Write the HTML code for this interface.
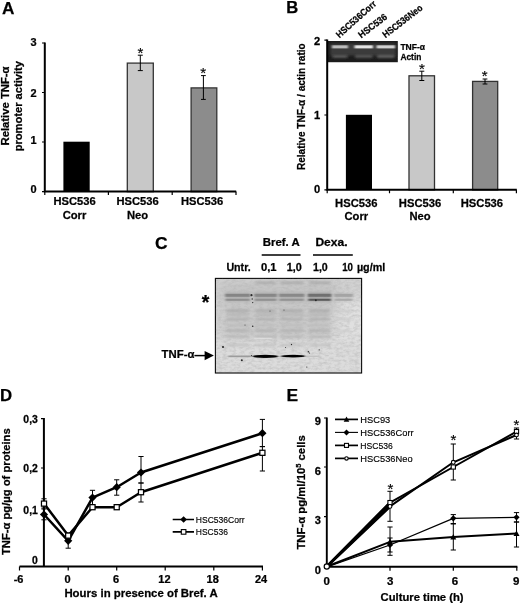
<!DOCTYPE html>
<html lang="en">
<head>
<meta charset="utf-8">
<title>Figure</title>
<style>
html,body{margin:0;padding:0;background:#fff;}
body{width:520px;height:604px;overflow:hidden;}
svg{display:block;}
text{font-family:"Liberation Sans","DejaVu Sans",sans-serif;fill:#000;stroke:#000;stroke-width:0.15px;}
.b{font-weight:bold;stroke:#000;stroke-width:0.25px;}
.ax{stroke:#000;stroke-width:2;fill:none;}
.tk{stroke:#000;stroke-width:1.2;fill:none;}
.eb{stroke:#000;stroke-width:1;fill:none;}
.l2{stroke:#000;stroke-width:2.5;fill:none;stroke-linejoin:round;}
.l1{stroke:#000;stroke-width:1.1;fill:none;stroke-linejoin:round;}
</style>
</head>
<body>
<svg width="520" height="604" viewBox="0 0 520 604">
<defs>
  <filter id="bl1" x="-10%" y="-100%" width="120%" height="300%"><feGaussianBlur stdDeviation="0.9 0.7"/></filter>
  <filter id="bl2" x="-10%" y="-100%" width="120%" height="300%"><feGaussianBlur stdDeviation="1.4 0.9"/></filter>
  <filter id="bl3" x="-10%" y="-100%" width="120%" height="300%"><feGaussianBlur stdDeviation="2.5 1.4"/></filter>
  <filter id="bl4" x="-20%" y="-20%" width="140%" height="140%"><feGaussianBlur stdDeviation="6 4"/></filter>
  <filter id="soft" x="0" y="0" width="100%" height="100%"><feGaussianBlur stdDeviation="0.35"/></filter>
  <filter id="noise" x="0" y="0" width="100%" height="100%"><feTurbulence type="fractalNoise" baseFrequency="0.22 0.4" numOctaves="3" seed="11"/><feColorMatrix type="matrix" values="0 0 0 0 0.45  0 0 0 0 0.45  0 0 0 0 0.45  1.6 0 0 0 -0.62"/></filter>
  <clipPath id="blotclip"><rect x="215.4" y="278.4" width="146.2" height="94.6"/></clipPath>
</defs>
<rect x="0" y="0" width="520" height="604" fill="#fff"/>
<g filter="url(#soft)">

<g id="panelA">
<text class="b" font-size="17.2" transform="translate(2.10,13.80)">A</text>
<text class="b" font-size="10.6" text-anchor="middle" transform="translate(8.90,106.00) rotate(-90) scale(1.065,1)">Relative TNF-α</text>
<text class="b" font-size="10.6" text-anchor="middle" transform="translate(22.30,106.20) rotate(-90) scale(1.052,1)">promoter activity</text>
<text class="b" font-size="10.5" text-anchor="end" transform="translate(36.60,46.20) scale(1.045,1)">3</text>
<text class="b" font-size="10.5" text-anchor="end" transform="translate(36.60,97.20) scale(1.045,1)">2</text>
<text class="b" font-size="10.5" text-anchor="end" transform="translate(36.60,144.40) scale(1.045,1)">1</text>
<text class="b" font-size="10.5" text-anchor="end" transform="translate(36.60,193.00) scale(1.045,1)">0</text>
<rect x="63.4" y="141.7" width="26.3" height="49.9" fill="#000"/>
<rect x="127.3" y="63.1" width="26" height="128.5" fill="#c8c8c8" stroke="#333" stroke-width="1.3"/>
<rect x="191.1" y="87.9" width="25.7" height="103.7" fill="#8c8c8c" stroke="#333" stroke-width="1.3"/>
<path class="eb" d="M140.3 55.2V70.6M137.8 55.2h5.0M137.8 70.6h5.0"/>
<path class="eb" d="M203.4 75.6V99.4M201.0 75.6h4.8M201.0 99.4h4.8"/>
<text font-family="Liberation Serif, DejaVu Serif, serif" font-size="15" stroke-width="0.3" text-anchor="middle" x="140.4" y="57.86">*</text>
<text font-family="Liberation Serif, DejaVu Serif, serif" font-size="15" stroke-width="0.3" text-anchor="middle" x="203.2" y="78.27">*</text>
<path class="ax" d="M44.8 42.5V191.6H236.2"/>
<path class="tk" d="M42 43h2.8M42 92.5h2.8M42 142h2.8M42 191.6h2.8"/>
<path class="tk" d="M44.8 191.6v3.5M108.4 191.6v3.5M172.2 191.6v3.5M236 191.6v3.5"/>
<text class="b" font-size="11" text-anchor="middle" transform="translate(74.50,205.30) scale(1.015,1)">HSC536</text>
<text class="b" font-size="11" text-anchor="middle" transform="translate(74.50,218.80) scale(1.02,1)">Corr</text>
<text class="b" font-size="11" text-anchor="middle" transform="translate(137.50,205.30) scale(1.015,1)">HSC536</text>
<text class="b" font-size="11" text-anchor="middle" transform="translate(137.50,218.80) scale(1.02,1)">Neo</text>
<text class="b" font-size="11" text-anchor="middle" transform="translate(202.00,205.30) scale(1.015,1)">HSC536</text>
</g>
<g id="panelB">
<text class="b" font-size="16.6" transform="translate(286.20,12.80)">B</text>
<text class="b" font-size="11.3" text-anchor="middle" transform="translate(304.90,106.70) rotate(-90) scale(0.889,1)">Relative TNF-α / actin ratio</text>
<text class="b" font-size="10.5" text-anchor="end" transform="translate(320.30,45.40) scale(1.062,1)">2</text>
<text class="b" font-size="10.5" text-anchor="end" transform="translate(320.30,119.40) scale(1.062,1)">1</text>
<text class="b" font-size="10.5" text-anchor="end" transform="translate(320.30,192.60) scale(1.062,1)">0</text>
<rect x="345.9" y="114.8" width="26.1" height="75" fill="#000"/>
<rect x="409" y="75.8" width="25.5" height="114" fill="#c8c8c8" stroke="#333" stroke-width="1.3"/>
<rect x="472.6" y="81.4" width="25.1" height="108.4" fill="#8c8c8c" stroke="#333" stroke-width="1.3"/>
<path class="eb" d="M421.8 71.2V80.5M419.3 71.2h5.0M419.3 80.5h5.0"/>
<path class="eb" d="M485 79V84M482.6 79h4.8M482.6 84h4.8"/>
<text font-family="Liberation Serif, DejaVu Serif, serif" font-size="15" stroke-width="0.3" text-anchor="middle" x="421.8" y="73.66">*</text>
<text font-family="Liberation Serif, DejaVu Serif, serif" font-size="15" stroke-width="0.3" text-anchor="middle" x="484.7" y="81.06">*</text>
<g><rect x="328" y="41" width="69.8" height="21.2" fill="#1c1c1c"/>
<rect x="330" y="43.5" width="66" height="12" fill="#3a3a3a" filter="url(#bl2)"/>
<g filter="url(#bl1)">
<rect x="332" y="45.3" width="16" height="3.1" fill="#bcbcbc"/>
<rect x="354.5" y="45.3" width="18.5" height="3.1" fill="#e4e4e4"/>
<rect x="376.5" y="45.3" width="18.5" height="3.1" fill="#d2d2d2"/>
</g><g filter="url(#bl2)">
<rect x="332.5" y="55" width="15" height="2.8" fill="#606060"/>
<rect x="355.0" y="55" width="17.5" height="2.8" fill="#5c5c5c"/>
<rect x="377.0" y="55" width="17.5" height="2.8" fill="#686868"/>
</g></g>
<text class="b" font-size="9" transform="translate(400.40,50.30) scale(0.949,1)">TNF-α</text>
<text class="b" font-size="9" transform="translate(400.40,59.70) scale(0.933,1)">Actin</text>
<text class="b" font-size="9.5" transform="translate(339.40,38.40) rotate(-42) scale(0.902,1)">HSC536Corr</text>
<text class="b" font-size="9.5" transform="translate(361.30,38.60) rotate(-37.5) scale(0.936,1)">HSC536</text>
<text class="b" font-size="9.5" transform="translate(385.40,38.30) rotate(-37.5) scale(0.891,1)">HSC536Neo</text>
<path class="ax" d="M327.2 39.6V189.8H516.8"/>
<path class="tk" d="M324.4 40.2h2.8M324.4 115h2.8M324.4 189.8h2.8"/>
<path class="tk" d="M327.2 189.8v3.5M389.5 189.8v3.5M453.3 189.8v3.5M516.4 189.8v3.5"/>
<text class="b" font-size="11" text-anchor="middle" transform="translate(356.30,206.50) scale(1.02,1)">HSC536</text>
<text class="b" font-size="11" text-anchor="middle" transform="translate(356.30,219.90) scale(1.02,1)">Corr</text>
<text class="b" font-size="11" text-anchor="middle" transform="translate(420.00,206.50) scale(1.02,1)">HSC536</text>
<text class="b" font-size="11" text-anchor="middle" transform="translate(420.00,219.90) scale(1.02,1)">Neo</text>
<text class="b" font-size="11" text-anchor="middle" transform="translate(481.90,206.50) scale(1.02,1)">HSC536</text>
</g>
<g id="panelC">
<text class="b" font-size="17.4" transform="translate(155.10,248.80)">C</text>
<text class="b" font-size="10.6" transform="translate(262.80,245.80) scale(1.077,1)">Bref. A</text>
<text class="b" font-size="10.6" transform="translate(315.40,245.80) scale(1.138,1)">Dexa.</text>
<path d="M261.7 255H300.5M313 255H352.8" stroke="#000" stroke-width="1.4"/>
<text class="b" font-size="10.6" transform="translate(226.40,270.70) scale(1.006,1)">Untr.</text>
<text class="b" font-size="10.6" transform="translate(261.00,270.70) scale(1.059,1)">0,1</text>
<text class="b" font-size="10.6" transform="translate(286.70,270.70) scale(1.018,1)">1,0</text>
<text class="b" font-size="10.6" transform="translate(313.00,270.70) scale(1.004,1)">1,0</text>
<text class="b" font-size="10.6" transform="translate(342.20,270.70) scale(0.916,1)">10</text>
<text class="b" font-size="10.6" transform="translate(356.90,270.70) scale(1.018,1)">µg/ml</text>
<text class="b" font-size="19.5" text-anchor="middle" x="205.6" y="309.3">*</text>
<text class="b" font-size="11.2" text-anchor="end" transform="translate(194.40,358.30) scale(1.013,1)">TNF-α</text>
<path d="M194.4 355.6H206" stroke="#000" stroke-width="1.5"/>
<path d="M204.6 350.9L213.9 355.6L204.6 360.3Z" fill="#000"/>
<g id="blot">
<rect x="215.4" y="278.4" width="146.2" height="94.6" fill="#d2d2d2"/>
<g clip-path="url(#blotclip)">
<g filter="url(#bl4)">
<rect x="332" y="300" width="45" height="85" fill="#e0e0e0"/>
<rect x="210" y="340" width="160" height="45" fill="#dcdcdc"/>
<rect x="220" y="282" width="118" height="26" fill="#c4c4c4"/>
<rect x="222" y="306" width="112" height="32" fill="#cacaca"/>
</g>
<g filter="url(#bl2)">
<rect x="225.3" y="292.4" width="24.7" height="9" fill="#b2b2b2"/>
<rect x="254.5" y="292.4" width="22.3" height="9" fill="#b0b0b0"/>
<rect x="279.2" y="292.4" width="25.0" height="9" fill="#b2b2b2"/>
<rect x="308" y="292.4" width="23.2" height="9" fill="#a6a6a6"/>
<rect x="334.2" y="292.4" width="18.5" height="9" fill="#c6c6c6"/>
</g>
<rect x="215" y="278" width="147" height="96" filter="url(#noise)" opacity="0.7"/>
<g filter="url(#bl1)">
<rect x="225.3" y="293.8" width="24.7" height="3" fill="#858585"/>
<rect x="225.8" y="298.8" width="23.7" height="2" fill="#8f8f8f"/>
<rect x="254.5" y="293.8" width="22.3" height="3" fill="#878787"/>
<rect x="255.0" y="298.8" width="21.3" height="2" fill="#919191"/>
<rect x="279.2" y="293.8" width="25.0" height="3" fill="#898989"/>
<rect x="279.7" y="298.8" width="24.0" height="2" fill="#939393"/>
<rect x="308" y="293.8" width="23.2" height="3" fill="#707070"/>
<rect x="308.5" y="298.8" width="22.2" height="2" fill="#5a5a5a"/>
<rect x="334.2" y="293.8" width="18.5" height="3" fill="#a4a4a4"/>
<rect x="334.7" y="298.8" width="17.5" height="2" fill="#aaaaaa"/>
</g>
<g filter="url(#bl2)" opacity="0.95">
<rect x="226.3" y="309.5" width="22.7" height="2.4" fill="#a8a8a8"/>
<rect x="226.3" y="313.5" width="22.7" height="2.4" fill="#b6b6b6"/>
<rect x="226.3" y="318" width="22.7" height="2.4" fill="#aeaeae"/>
<rect x="226.3" y="324" width="22.7" height="2.4" fill="#bcbcbc"/>
<rect x="226.3" y="329.5" width="22.7" height="2.4" fill="#b0b0b0"/>
<rect x="226.3" y="335.5" width="22.7" height="2.4" fill="#b8b8b8"/>
<rect x="226.3" y="344" width="22.7" height="2.4" fill="#c2c2c2"/>
<rect x="255.5" y="309.5" width="20.3" height="2.4" fill="#a8a8a8"/>
<rect x="255.5" y="313.5" width="20.3" height="2.4" fill="#b6b6b6"/>
<rect x="255.5" y="318" width="20.3" height="2.4" fill="#aeaeae"/>
<rect x="255.5" y="324" width="20.3" height="2.4" fill="#bcbcbc"/>
<rect x="255.5" y="329.5" width="20.3" height="2.4" fill="#b0b0b0"/>
<rect x="255.5" y="335.5" width="20.3" height="2.4" fill="#b8b8b8"/>
<rect x="255.5" y="344" width="20.3" height="2.4" fill="#c2c2c2"/>
<rect x="255.5" y="281.5" width="20.3" height="2.4" fill="#a8a8a8"/>
<rect x="280.2" y="309.5" width="23.0" height="2.4" fill="#a8a8a8"/>
<rect x="280.2" y="313.5" width="23.0" height="2.4" fill="#b6b6b6"/>
<rect x="280.2" y="318" width="23.0" height="2.4" fill="#aeaeae"/>
<rect x="280.2" y="324" width="23.0" height="2.4" fill="#bcbcbc"/>
<rect x="280.2" y="329.5" width="23.0" height="2.4" fill="#b0b0b0"/>
<rect x="280.2" y="335.5" width="23.0" height="2.4" fill="#b8b8b8"/>
<rect x="280.2" y="344" width="23.0" height="2.4" fill="#c2c2c2"/>
<rect x="280.2" y="281.5" width="23.0" height="2.4" fill="#a8a8a8"/>
<rect x="309" y="309.5" width="21.2" height="2.4" fill="#a8a8a8"/>
<rect x="309" y="313.5" width="21.2" height="2.4" fill="#b6b6b6"/>
<rect x="309" y="318" width="21.2" height="2.4" fill="#aeaeae"/>
<rect x="309" y="324" width="21.2" height="2.4" fill="#bcbcbc"/>
<rect x="309" y="329.5" width="21.2" height="2.4" fill="#b0b0b0"/>
<rect x="309" y="335.5" width="21.2" height="2.4" fill="#b8b8b8"/>
<rect x="309" y="344" width="21.2" height="2.4" fill="#c2c2c2"/>
<rect x="309" y="281.5" width="21.2" height="2.4" fill="#a8a8a8"/>
<rect x="335.2" y="310" width="16.5" height="2.4" fill="#cacaca"/>
<rect x="335.2" y="318" width="16.5" height="2.4" fill="#cccccc"/>
<rect x="335.2" y="330" width="16.5" height="2.4" fill="#cecece"/>
</g>
<g filter="url(#bl1)">
<rect x="228" y="355.5" width="23.5" height="1.7" fill="#9c9c9c"/>
<ellipse cx="265.2" cy="356.3" rx="13.2" ry="1.6" fill="#000"/>
<ellipse cx="293.2" cy="356.1" rx="12.8" ry="1.35" fill="#000"/>
<rect x="306" y="355.6" width="13" height="1.3" fill="#c0c0c0"/>
</g>
<g filter="url(#bl1)" opacity="0.6"><rect x="254.5" y="337.7" width="17.5" height="1.1" fill="#f4f4f4"/></g>
<g filter="url(#soft)">
<circle cx="251.5" cy="295.2" r="1.1" fill="#2c2c2c"/>
<circle cx="252.2" cy="299" r="0.7" fill="#2c2c2c"/>
<circle cx="252.7" cy="302.6" r="0.7" fill="#2c2c2c"/>
<circle cx="223" cy="347" r="1.1" fill="#2c2c2c"/>
<circle cx="241.8" cy="360.2" r="1" fill="#2c2c2c"/>
<circle cx="252.7" cy="326.3" r="0.8" fill="#2c2c2c"/>
<circle cx="251.5" cy="355.5" r="0.6" fill="#2c2c2c"/>
<circle cx="308.4" cy="351.7" r="0.8" fill="#2c2c2c"/>
<circle cx="309.5" cy="353" r="0.6" fill="#2c2c2c"/>
<circle cx="319.2" cy="349.8" r="0.6" fill="#2c2c2c"/>
<circle cx="306.8" cy="367" r="0.6" fill="#2c2c2c"/>
<circle cx="315.8" cy="300.3" r="1.0" fill="#2c2c2c"/>
<circle cx="245" cy="325" r="0.5" fill="#2c2c2c"/>
<circle cx="270" cy="311" r="0.5" fill="#2c2c2c"/>
<circle cx="284" cy="310" r="0.5" fill="#2c2c2c"/>
<circle cx="291.5" cy="344.5" r="0.7" fill="#2c2c2c"/>
<circle cx="285.5" cy="347.5" r="0.5" fill="#2c2c2c"/>
</g>
</g>
<rect x="215.4" y="278.4" width="146.2" height="94.6" fill="none" stroke="#0c0c0c" stroke-width="1.1"/>
</g>
</g>
<g id="panelD">
<text class="b" font-size="16.8" transform="translate(-0.10,400.50)">D</text>
<text class="b" font-size="10.6" text-anchor="middle" transform="translate(9.50,491.70) rotate(-90) scale(1.059,1)">TNF-α pg/µg of proteins</text>
<text class="b" font-size="10" text-anchor="end" transform="translate(37.80,423.30) scale(1.04,1)">0,3</text>
<text class="b" font-size="10" text-anchor="end" transform="translate(37.80,472.40) scale(1.04,1)">0,2</text>
<text class="b" font-size="10" text-anchor="end" transform="translate(37.80,514.10) scale(1.04,1)">0,1</text>
<text class="b" font-size="10" text-anchor="end" transform="translate(37.80,564.20) scale(1.04,1)">0</text>
<path d="M43.9 418V566.4" stroke="#000" stroke-width="2" fill="none"/>
<path d="M19.5 566.4H263" stroke="#000" stroke-width="2" fill="none"/>
<path class="tk" d="M41 418.7h3M41 468h3"/>
<path class="tk" d="M19.5 566.4v4M68.2 566.4v4M116.7 566.4v4M165.2 566.4v4M213.8 566.4v4M262.4 566.4v4"/>
<text class="b" font-size="10" text-anchor="middle" transform="translate(18.60,582.60) scale(1.1,1)">-6</text>
<text class="b" font-size="10" text-anchor="middle" transform="translate(67.60,582.60) scale(1.1,1)">0</text>
<text class="b" font-size="10" text-anchor="middle" transform="translate(116.00,582.60) scale(1.1,1)">6</text>
<text class="b" font-size="10" text-anchor="middle" transform="translate(164.40,582.60) scale(1.1,1)">12</text>
<text class="b" font-size="10" text-anchor="middle" transform="translate(212.70,582.60) scale(1.1,1)">18</text>
<text class="b" font-size="10" text-anchor="middle" transform="translate(261.00,582.60) scale(1.1,1)">24</text>
<text class="b" font-size="10.9" transform="translate(64.40,597.00) scale(1.046,1)">Hours in presence of Bref. A</text>
<path class="eb" d="M44 509V519.8M41.4 509h5.2M41.4 519.8h5.2"/>
<path class="eb" d="M68.2 533.5V548.2M65.60000000000001 533.5h5.2M65.60000000000001 548.2h5.2"/>
<path class="eb" d="M92.5 490.3V505M89.9 490.3h5.2M89.9 505h5.2"/>
<path class="eb" d="M116.7 479.8V495.2M114.10000000000001 479.8h5.2M114.10000000000001 495.2h5.2"/>
<path class="eb" d="M141 456.5V483M138.4 456.5h5.2M138.4 483h5.2"/>
<path class="eb" d="M262.4 419.4V446.6M259.79999999999995 419.4h5.2M259.79999999999995 446.6h5.2"/>
<path class="eb" d="M44 498.8V508M41.4 498.8h5.2M41.4 508h5.2"/>
<path class="eb" d="M68.2 533V538M65.60000000000001 533h5.2M65.60000000000001 538h5.2"/>
<path class="eb" d="M92.5 505V509M89.9 505h5.2M89.9 509h5.2"/>
<path class="eb" d="M116.7 505V509M114.10000000000001 505h5.2M114.10000000000001 509h5.2"/>
<path class="eb" d="M141 483V502M138.4 483h5.2M138.4 502h5.2"/>
<path class="eb" d="M262.4 446.6V471M259.79999999999995 446.6h5.2M259.79999999999995 471h5.2"/>
<path class="l2" d="M44 514.5 L68.2 540.8 L92.5 497.6 L116.7 487.2 L141 472.5 L262.4 433.2"/>
<path class="l2" d="M44 503.6 L68.2 535.6 L92.5 507.2 L116.7 507.2 L141 492.2 L262.4 452.8"/>
<path d="M44 510.4L48.1 514.5L44 518.6L39.9 514.5Z" fill="#000"/>
<path d="M68.2 536.6999999999999L72.3 540.8L68.2 544.9L64.10000000000001 540.8Z" fill="#000"/>
<path d="M92.5 493.5L96.6 497.6L92.5 501.70000000000005L88.4 497.6Z" fill="#000"/>
<path d="M116.7 483.09999999999997L120.8 487.2L116.7 491.3L112.60000000000001 487.2Z" fill="#000"/>
<path d="M141 468.4L145.1 472.5L141 476.6L136.9 472.5Z" fill="#000"/>
<path d="M262.4 429.09999999999997L266.5 433.2L262.4 437.3L258.29999999999995 433.2Z" fill="#000"/>
<rect x="41.45" y="501.05" width="5.1" height="5.1" fill="#fff" stroke="#000" stroke-width="1.25"/>
<rect x="65.65" y="533.0500000000001" width="5.1" height="5.1" fill="#fff" stroke="#000" stroke-width="1.25"/>
<rect x="89.95" y="504.65" width="5.1" height="5.1" fill="#fff" stroke="#000" stroke-width="1.25"/>
<rect x="114.15" y="504.65" width="5.1" height="5.1" fill="#fff" stroke="#000" stroke-width="1.25"/>
<rect x="138.45" y="489.65" width="5.1" height="5.1" fill="#fff" stroke="#000" stroke-width="1.25"/>
<rect x="259.84999999999997" y="450.25" width="5.1" height="5.1" fill="#fff" stroke="#000" stroke-width="1.25"/>
<path stroke="#000" stroke-width="1.7" d="M172.7 519.5H194M172.7 531.9H194"/>
<path d="M183.6 516.2L186.9 519.5L183.6 522.8L180.29999999999998 519.5Z" fill="#000"/>
<rect x="181.29999999999998" y="529.6" width="4.6" height="4.6" fill="#fff" stroke="#000" stroke-width="1.1"/>
<text font-size="9.6" transform="translate(195.80,522.80) scale(0.892,1)" stroke-width="0.3">HSC536Corr</text>
<text font-size="9.6" transform="translate(195.80,535.20) scale(0.887,1)" stroke-width="0.3">HSC536</text>
</g>
<g id="panelE">
<text class="b" font-size="17.4" transform="translate(286.60,400.70)">E</text>
<text class="b" font-size="10.5" text-anchor="middle" transform="translate(305.30,492.40) rotate(-90) scale(1.08,1)">TNF-α pg/ml/10<tspan font-size="7" dy="-4">5</tspan><tspan dy="4"> cells</tspan></text>
<text class="b" font-size="10.5" text-anchor="end" transform="translate(321.00,424.80) scale(1.062,1)">9</text>
<text class="b" font-size="10.5" text-anchor="end" transform="translate(321.00,474.60) scale(1.062,1)">6</text>
<text class="b" font-size="10.5" text-anchor="end" transform="translate(321.00,523.80) scale(1.062,1)">3</text>
<text class="b" font-size="10.5" text-anchor="end" transform="translate(321.00,573.80) scale(1.062,1)">0</text>
<path d="M326.8 417.5V566.7H517.4" stroke="#000" stroke-width="1.9" fill="none"/>
<path class="tk" d="M324 418h2.8M324 467h2.8M324 516.6h2.8"/>
<path class="tk" d="M390 566.7v4M453.3 566.7v4M516.8 566.7v4"/>
<text class="b" font-size="10.8" text-anchor="middle" transform="translate(326.80,585.10) scale(1.065,1)">0</text>
<text class="b" font-size="10.8" text-anchor="middle" transform="translate(390.20,585.10) scale(1.065,1)">3</text>
<text class="b" font-size="10.8" text-anchor="middle" transform="translate(455.00,585.10) scale(1.065,1)">6</text>
<text class="b" font-size="10.8" text-anchor="middle" transform="translate(516.20,585.10) scale(1.065,1)">9</text>
<text class="b" font-size="10.9" transform="translate(380.60,600.90) scale(1.031,1)">Culture time (h)</text>
<path class="eb" d="M390 491.3V521.3M387.4 491.3h5.2M387.4 521.3h5.2"/>
<path class="eb" d="M390 527V552M387.4 527h5.2M387.4 552h5.2"/>
<path class="eb" d="M390 538V555.3M387.4 538h5.2M387.4 555.3h5.2"/>
<path class="eb" d="M453.3 444V480M450.7 444h5.2M450.7 480h5.2"/>
<path class="eb" d="M453.3 514.6V523.5M450.7 514.6h5.2M450.7 523.5h5.2"/>
<path class="eb" d="M453.3 524V550M450.7 524h5.2M450.7 550h5.2"/>
<path class="eb" d="M516.5 428V439M513.9 428h5.2M513.9 439h5.2"/>
<path class="eb" d="M516.5 512.6V522M513.9 512.6h5.2M513.9 522h5.2"/>
<path class="eb" d="M516.5 522V547M513.9 522h5.2M513.9 547h5.2"/>
<path fill="none" stroke="#000" stroke-linejoin="round" stroke-width="1.9" d="M326.8 566.5 L390 541.8 L453.3 537 L516.5 533.5"/>
<path fill="none" stroke="#000" stroke-linejoin="round" stroke-width="1.25" d="M326.8 566.8 L390 545 L453.3 518.3 L516.5 517.3"/>
<path fill="none" stroke="#000" stroke-linejoin="round" stroke-width="2.0" d="M326.8 566.5 L390 502.6 L453.3 467 L516.5 431.6"/>
<path fill="none" stroke="#000" stroke-linejoin="round" stroke-width="2.0" d="M326.8 566.5 L390 506.4 L453.3 462.3 L516.5 435"/>
<path fill="none" stroke="#000" stroke-width="2.7" d="M326.8 566.5L390 502.6M326.8 566.5L390 506.4"/>
<path d="M390 538.8L393 544.1999999999999L387 544.1999999999999Z" fill="#000"/>
<path d="M453.3 534L456.3 539.4L450.3 539.4Z" fill="#000"/>
<path d="M516.5 530.5L519.5 535.9L513.5 535.9Z" fill="#000"/>
<path d="M390 541.9L393.1 545L390 548.1L386.9 545Z" fill="#000"/>
<path d="M453.3 515.1999999999999L456.40000000000003 518.3L453.3 521.4L450.2 518.3Z" fill="#000"/>
<path d="M516.5 514.1999999999999L519.6 517.3L516.5 520.4L513.4 517.3Z" fill="#000"/>
<rect x="387.9" y="500.5" width="4.2" height="4.2" fill="#fff" stroke="#000" stroke-width="1.1"/>
<rect x="451.2" y="464.9" width="4.2" height="4.2" fill="#fff" stroke="#000" stroke-width="1.1"/>
<rect x="514.4" y="429.5" width="4.2" height="4.2" fill="#fff" stroke="#000" stroke-width="1.1"/>
<circle cx="390" cy="506.4" r="1.9" fill="#fff" stroke="#000" stroke-width="1.1"/>
<circle cx="453.3" cy="462.3" r="1.9" fill="#fff" stroke="#000" stroke-width="1.1"/>
<circle cx="516.5" cy="435" r="1.9" fill="#fff" stroke="#000" stroke-width="1.1"/>
<circle cx="326.8" cy="566.5" r="2.6" fill="#fff" stroke="#000" stroke-width="1.2"/>
<text font-family="Liberation Serif, DejaVu Serif, serif" font-size="15" stroke-width="0.3" text-anchor="middle" x="390.5" y="494.06">*</text>
<text font-family="Liberation Serif, DejaVu Serif, serif" font-size="15" stroke-width="0.3" text-anchor="middle" x="453.3" y="445.06">*</text>
<text font-family="Liberation Serif, DejaVu Serif, serif" font-size="15" stroke-width="0.3" text-anchor="middle" x="516.3" y="430.06">*</text>
<path stroke="#000" stroke-width="1.7" d="M335 419.4H358"/>
<path stroke="#000" stroke-width="1.1" d="M335 432.4H358"/>
<path stroke="#000" stroke-width="1.7" d="M335 445.4H358"/>
<path stroke="#000" stroke-width="1.7" d="M335 458.4H358"/>
<path d="M346.5 416.59999999999997L349.3 421.64L343.7 421.64Z" fill="#000"/>
<path d="M346.5 429.4L349.5 432.4L346.5 435.4L343.5 432.4Z" fill="#000"/>
<rect x="344.5" y="443.4" width="4" height="4" fill="#fff" stroke="#000" stroke-width="1.1"/>
<circle cx="346.5" cy="458.4" r="1.7" fill="#fff" stroke="#000" stroke-width="1.1"/>
<text font-size="9.2" transform="translate(360.30,422.70) scale(1.012,1)">HSC93</text>
<text font-size="9.2" transform="translate(360.30,435.60) scale(1.014,1)">HSC536Corr</text>
<text font-size="9.2" transform="translate(360.30,448.60) scale(0.937,1)">HSC536</text>
<text font-size="9.2" transform="translate(360.30,461.60) scale(1.014,1)">HSC536Neo</text>
</g>
</g>
</svg>
</body>
</html>
